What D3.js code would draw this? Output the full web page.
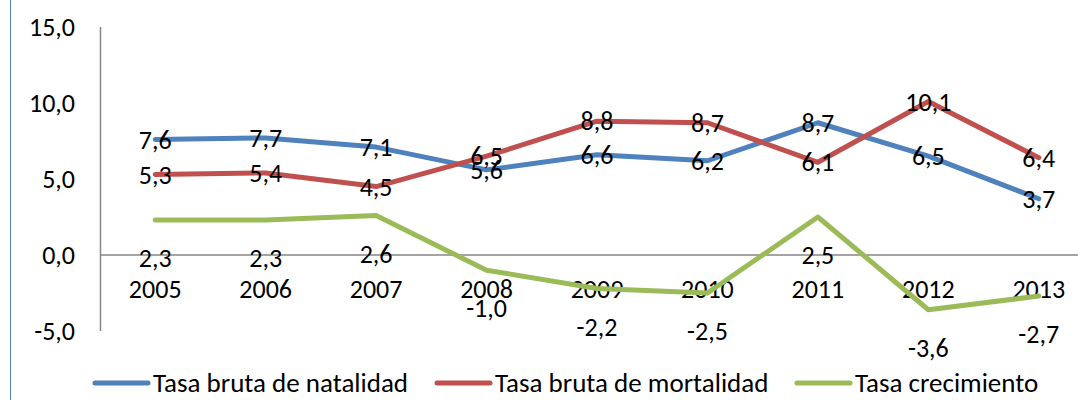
<!DOCTYPE html>
<html>
<head>
<meta charset="utf-8">
<script src="https://cdn.jsdelivr.net/npm/d3@7"></script>
<style>
  body { margin: 0; background: #fff; }
  svg { display: block; font-family: Carlito, "Liberation Sans", Arial, sans-serif; }
</style>
</head>
<body>
<div id="chart"></div>
<script>
var years = ["2005", "2006", "2007", "2008", "2009", "2010", "2011", "2012", "2013"];
var natalidad = [7.6, 7.7, 7.1, 5.6, 6.6, 6.2, 8.7, 6.5, 3.7];
var mortalidad = [5.3, 5.4, 4.5, 6.5, 8.8, 8.7, 6.1, 10.1, 6.4];
var crecimiento = [2.3, 2.3, 2.6, -1.0, -2.2, -2.5, 2.5, -3.6, -2.7];
var yTicks = [-5, 0, 5, 10, 15];
var seriesNames = ["Tasa bruta de natalidad", "Tasa bruta de mortalidad", "Tasa crecimiento"];
var colors = ["#4F81BD", "#C0504D", "#9BBB59"];

var w = 1078, h = 400;
var svg = d3.select("#chart").append("svg")
  .attr("width", w)
  .attr("height", h);

// blue frame edge on the left
svg.append("line")
  .attr("x1", 10.5).attr("x2", 10.5)
  .attr("y1", 0).attr("y2", h)
  .attr("stroke", "#4F81BD").attr("stroke-width", 1);

var x = d3.scaleBand().domain(years).range([100, 1094]);
var y = d3.scaleLinear().domain([-5, 15]).range([331, 27]);
var fmt = function(v){ return d3.format(".1f")(v).replace(".", ",").replace("\u2212", "-"); };

// y axis
svg.append("line")
  .attr("x1", 100.5).attr("x2", 100.5)
  .attr("y1", y(15)).attr("y2", y(-5))
  .attr("stroke", "#868686").attr("stroke-width", 1.5);

svg.selectAll("text.ytick")
  .data(yTicks)
  .enter()
  .append("text")
  .attr("class", "ytick")
  .attr("x", 75)
  .attr("y", function(d){ return y(d); })
  .attr("dy", "0.35em")
  .attr("text-anchor", "end")
  .attr("font-size", 26)
  .attr("fill", "#000")
  .text(fmt);

// category axis at zero
svg.append("line")
  .attr("x1", 100).attr("x2", w)
  .attr("y1", y(0)).attr("y2", y(0))
  .attr("stroke", "#868686").attr("stroke-width", 1.5);

svg.selectAll("text.xtick")
  .data(years)
  .enter()
  .append("text")
  .attr("class", "xtick")
  .attr("x", function(d){ return x(d) + x.bandwidth() / 2; })
  .attr("y", y(0) + 34)
  .attr("dy", "0.35em")
  .attr("text-anchor", "middle")
  .attr("font-size", 26)
  .attr("fill", "#000")
  .text(function(d){ return d; });

var series = [natalidad, mortalidad, crecimiento];
var labelOffset = [0, 0, 38];

var line = d3.line()
  .x(function(d, i){ return x(years[i]) + x.bandwidth() / 2; })
  .y(function(d){ return y(d); });

series.forEach(function(vals, s){
  svg.append("path")
    .datum(vals)
    .attr("d", line)
    .attr("fill", "none")
    .attr("stroke", colors[s])
    .attr("stroke-width", 5)
    .attr("stroke-linejoin", "round")
    .attr("stroke-linecap", "round");
});

series.forEach(function(vals, s){
  svg.selectAll("text.lbl" + s)
    .data(vals)
    .enter()
    .append("text")
    .attr("class", "lbl" + s)
    .attr("x", function(d, i){ return x(years[i]) + x.bandwidth() / 2; })
    .attr("y", function(d){ return y(d) + labelOffset[s]; })
    .attr("dy", "0.35em")
    .attr("text-anchor", "middle")
    .attr("font-size", 26)
    .attr("fill", "#000")
    .text(fmt);
});

// legend
var legendX = [93, 435, 795];
seriesNames.forEach(function(name, s){
  svg.append("line")
    .attr("x1", legendX[s] + 2).attr("x2", legendX[s] + 55)
    .attr("y1", 383).attr("y2", 383)
    .attr("stroke", colors[s])
    .attr("stroke-width", 5)
    .attr("stroke-linecap", "round");
  svg.append("text")
    .attr("x", legendX[s] + 60)
    .attr("y", 383)
    .attr("dy", "0.35em")
    .attr("font-size", 27)
    .attr("fill", "#000")
    .text(name);
});
</script>
</body>
</html>
